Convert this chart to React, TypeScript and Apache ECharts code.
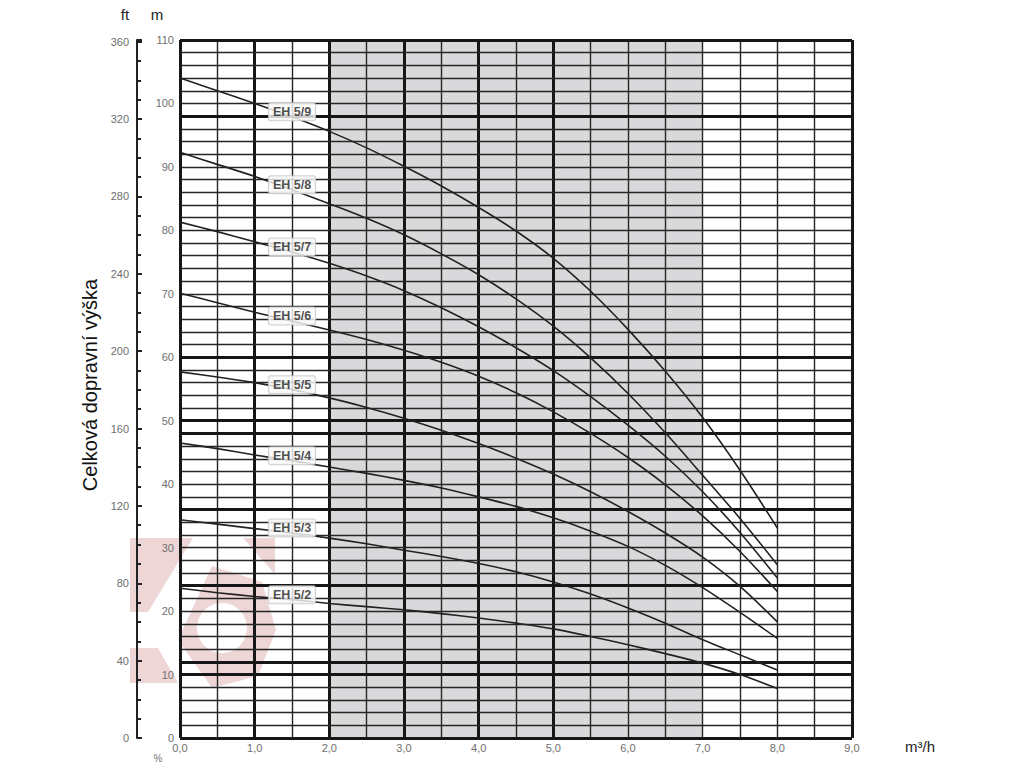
import React, { useEffect, useRef } from "react";
import * as echarts from "echarts";

// flow rate (m³/h)
const flow = [0, 0.5, 1, 1.5, 2, 2.5, 3, 3.5, 4, 4.5, 5, 5.5, 6, 6.5, 7, 7.5, 8];

// head (m) for each pump model
const eh59 = [104, 102, 100, 97.9, 95.6, 93, 90.1, 87, 83.6, 79.9, 75.6, 70.4, 64.4, 57.8, 50.5, 42.2, 33.1];
const eh58 = [92.3, 90.4, 88.5, 86.4, 84.2, 81.9, 79.3, 76.3, 73.0, 69.2, 64.9, 59.9, 54.3, 48.1, 41.4, 34.6, 27.3];
const eh57 = [81.3, 79.8, 78.2, 76.6, 74.8, 72.8, 70.5, 67.8, 64.8, 61.5, 57.9, 53.8, 49.3, 44.4, 38.8, 32.4, 25.2];
const eh56 = [70.1, 68.6, 67.1, 65.7, 64.3, 62.8, 61.1, 59.2, 57.0, 54.4, 51.4, 48.0, 44.2, 39.9, 35.0, 29.4, 23.1];
const eh55 = [57.7, 56.9, 56.0, 54.9, 53.6, 52.1, 50.4, 48.5, 46.4, 44.1, 41.6, 38.8, 35.7, 32.3, 28.5, 23.9, 18.3];
const eh54 = [46.5, 45.6, 44.6, 43.7, 42.7, 41.7, 40.6, 39.4, 38.0, 36.5, 34.7, 32.6, 30.2, 27.2, 23.7, 19.8, 15.7];
const eh53 = [34.4, 33.7, 33.0, 32.3, 31.5, 30.6, 29.6, 28.6, 27.5, 26.2, 24.6, 22.7, 20.5, 18.1, 15.5, 13.1, 10.7];
const eh52 = [23.6, 22.9, 22.3, 21.8, 21.2, 20.7, 20.2, 19.6, 18.9, 18.1, 17.2, 16.0, 14.7, 13.3, 11.8, 10.0, 7.8];

const models = ["EH 5/9", "EH 5/8", "EH 5/7", "EH 5/6", "EH 5/5", "EH 5/4", "EH 5/3", "EH 5/2"];
const curves = [eh59, eh58, eh57, eh56, eh55, eh54, eh53, eh52];
const labelFlow = 1.5;

// axis ticks
const xTickLabels = ["0,0", "1,0", "2,0", "3,0", "4,0", "5,0", "6,0", "7,0", "8,0", "9,0"];
const mTicks = [0, 10, 20, 30, 40, 50, 60, 70, 80, 90, 100, 110];
const ftTicks = [0, 40, 80, 120, 160, 200, 240, 280, 320, 360];

// grid lines
const thickX = [1, 2, 3, 4, 5];
const thickY = [10, 12, 24, 36, 48, 50, 60, 98];
const shadedRange = [2, 7];

const FONT = "'Liberation Sans', Arial, sans-serif";

export default function App() {
  const ref = useRef<HTMLDivElement>(null);

  useEffect(() => {
    if (!ref.current) return;
    const chart = echarts.init(ref.current, null, { renderer: "svg" });

    const thin = { color: "#262626", width: 1.4, type: "solid" };
    const thick = { color: "#161616", width: 3, type: "solid" };
    const gridLines: any[] = [];
    for (let v = 0.5; v < 9; v += 0.5) {
      gridLines.push({ xAxis: v, lineStyle: thickX.includes(v) ? thick : thin });
    }
    for (let v = 2; v < 110; v += 2) {
      gridLines.push({ yAxis: v, lineStyle: thickY.includes(v) ? thick : thin });
    }
    [{ xAxis: 0 }, { xAxis: 9 }, { yAxis: 0 }, { yAxis: 110 }].forEach((d) =>
      gridLines.push({ ...d, lineStyle: { color: "#161616", width: 3, type: "solid" } })
    );

    const li = flow.indexOf(labelFlow);

    const option: any = {
      animation: false,
      textStyle: { fontFamily: FONT },
      grid: { left: 180, right: 172, top: 40, bottom: 30, show: false },
      xAxis: {
        type: "value",
        min: 0,
        max: 9,
        interval: 1,
        axisLine: { show: false },
        axisTick: { show: false },
        splitLine: { show: false },
        axisLabel: {
          color: "#6e6e6e",
          fontSize: 11,
          margin: 4,
          formatter: (v: number) => xTickLabels[Math.round(v)] ?? "",
        },
      },
      yAxis: [
        {
          type: "value",
          min: 0,
          max: 110,
          interval: 10,
          position: "left",
          axisLine: { show: false },
          axisTick: { show: false },
          splitLine: { show: false },
          axisLabel: {
            color: "#6e6e6e",
            fontSize: 11,
            margin: 6,
            formatter: (v: number) => (mTicks.includes(v) ? String(v) : ""),
          },
        },
        {
          type: "value",
          min: 0,
          max: 110 * 3.28084,
          interval: 40,
          position: "left",
          offset: 43,
          showMaxLabel: false,
          axisLine: { show: true, lineStyle: { color: "#222", width: 2 } },
          axisTick: { show: true, inside: true, length: 5, lineStyle: { color: "#222", width: 2 } },
          minorTick: { show: true, splitNumber: 4, length: 4, lineStyle: { color: "#222", width: 2 } },
          splitLine: { show: false },
          axisLabel: {
            color: "#6e6e6e",
            fontSize: 11,
            margin: 8,
            formatter: (v: number) => (ftTicks.includes(v) ? String(v) : ""),
          },
        },
      ],
      graphic: [
        // watermark (behind the grid)
        { type: "polygon", z: 0, silent: true, shape: { points: [[130, 538], [193, 538], [148, 612], [130, 612]] }, style: { fill: "rgba(200,120,120,0.3)" } },
        { type: "polygon", z: 0, silent: true, shape: { points: [[130, 648], [158, 648], [178, 683], [130, 683]] }, style: { fill: "rgba(200,120,120,0.3)" } },
        { type: "polygon", z: 0, silent: true, shape: { points: [[243, 538], [275, 538], [275, 574]] }, style: { fill: "rgba(200,120,120,0.3)" } },
        { type: "polygon", z: 0, silent: true, shape: { points: [[212, 566], [262, 582], [276, 630], [258, 676], [212, 688], [178, 640]] }, style: { fill: "rgba(200,120,120,0.3)" } },
        { type: "circle", z: 0, silent: true, shape: { cx: 222, cy: 628, r: 25 }, style: { fill: "#fff" } },
        // titles
        { type: "text", x: 125, y: 14, style: { text: "ft", fontSize: 15, fill: "#222", fontFamily: FONT, align: "center", verticalAlign: "middle" } },
        { type: "text", x: 157, y: 14, style: { text: "m", fontSize: 15, fill: "#222", fontFamily: FONT, align: "center", verticalAlign: "middle" } },
        { type: "text", x: 158, y: 758, style: { text: "%", fontSize: 10, fill: "#777", fontFamily: FONT, align: "center", verticalAlign: "middle" } },
        { type: "text", x: 920, y: 746, style: { text: "m³/h", fontSize: 15, fill: "#222", fontFamily: FONT, align: "center", verticalAlign: "middle" } },
        {
          type: "text",
          x: 90,
          y: 385,
          rotation: Math.PI / 2,
          style: { text: "Celková dopravní výška", fontSize: 20, fill: "#111", fontFamily: FONT, align: "center", verticalAlign: "middle" },
        },
      ],
      series: [
        {
          type: "line",
          data: [],
          z: 1,
          silent: true,
          markArea: {
            silent: true,
            itemStyle: { color: "#d9d9db" },
            data: [[{ xAxis: shadedRange[0] }, { xAxis: shadedRange[1] }]],
          },
        },
        {
          type: "line",
          data: [],
          z: 3,
          silent: true,
          markLine: {
            silent: true,
            symbol: ["none", "none"],
            label: { show: false },
            data: gridLines,
          },
        },
        ...curves.map((c, k) => ({
          type: "line",
          name: models[k],
          z: 5,
          smooth: 0.3,
          showSymbol: false,
          symbol: "none",
          lineStyle: { color: "#222", width: 1.6 },
          data: flow.map((x, i) => [x, c[i]]),
        })),
        {
          type: "scatter",
          z: 8,
          symbolSize: 0,
          data: curves.map((c, k) => ({ value: [labelFlow, c[li]], name: models[k] })),
          label: {
            show: true,
            position: "inside",
            offset: [0, -5],
            formatter: (p: any) => p.name,
            color: "#222",
            fontSize: 12.5,
            fontWeight: "bold",
            fontFamily: FONT,
            backgroundColor: "#fafafa",
            borderColor: "#c4c4c4",
            borderWidth: 1,
            borderRadius: 2,
            padding: [2, 4],
          },
        },
      ],
    };

    chart.setOption(option);
    return () => chart.dispose();
  }, []);

  return (
    <div
      ref={ref}
      style={{ position: "fixed", left: 0, top: 0, width: 1024, height: 768, background: "#fff" }}
    />
  );
}
